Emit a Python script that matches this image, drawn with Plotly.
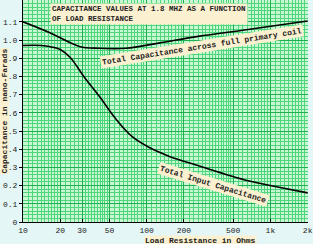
import numpy as np
import plotly.graph_objects as go

# Data
r_primary = [10, 16.5, 28.6, 41.5, 68, 125, 260, 660, 2000]
c_primary = [1.10, 1.04, 0.965, 0.955, 0.955, 0.983, 1.02, 1.058, 1.105]

r_input = [10, 14, 17, 20, 24, 31, 42, 55, 76, 105, 151, 263, 660, 1200, 2000]
c_input = [0.97, 0.97, 0.962, 0.948, 0.905, 0.80, 0.685, 0.575, 0.47, 0.409, 0.362, 0.309, 0.227, 0.19, 0.16]

x_tickvals = [10, 20, 30, 50, 100, 200, 500, 1000, 2000]
x_ticktext = ["10", "20", "30", "50", "100", "200", "500", "1k", "2k"]
y_tickvals = [0, 0.1, 0.2, 0.3, 0.4, 0.5, 0.6, 0.7, 0.8, 0.9, 1.0, 1.1]
y_ticktext = ["0", "0.1", "0.2", "0.3", "0.4", "0.5", "0.6", "0.7", "0.8", "0.9", "1.0", "1.1"]

# log-paper style minor grid
minor_x = (list(range(10, 20, 1)) + list(range(20, 50, 2)) + list(range(50, 100, 5))
           + list(range(100, 200, 10)) + list(range(200, 500, 20))
           + list(range(500, 1000, 50)) + list(range(1000, 2001, 100)))

FONT = "Liberation Mono, Courier New, monospace"
CREAM = "#fbf0cf"

fig = go.Figure()
fig.add_trace(go.Scatter(x=r_primary, y=c_primary, mode="lines",
                         line=dict(color="black", width=1.6, shape="spline"),
                         showlegend=False, hoverinfo="skip"))
fig.add_trace(go.Scatter(x=r_input, y=c_input, mode="lines",
                         line=dict(color="black", width=1.6, shape="spline"),
                         showlegend=False, hoverinfo="skip"))

fig.update_layout(
    width=313, height=244,
    margin=dict(l=23, r=3, t=0, b=22),
    paper_bgcolor="#e4f6f6",
    plot_bgcolor="#c9f6d3",
    font=dict(family=FONT, size=9, color="#222"),
    xaxis=dict(type="log", range=[1, np.log10(2000) + 0.003],
               tickmode="array", tickvals=x_tickvals, ticktext=x_ticktext,
               showgrid=True, gridcolor="#1fae50", gridwidth=1,
               minor=dict(tickmode="array", tickvals=minor_x, showgrid=True,
                          gridcolor="#4fd67c", gridwidth=1, ticks=""),
               showline=True, linecolor="black", linewidth=1,
               ticks="inside", ticklen=3, tickcolor="black",
               ticklabeloverflow="allow", ticklabelstandoff=0,
               tickfont=dict(family=FONT, size=8), zeroline=False),
    yaxis=dict(range=[0, 1.22],
               tickmode="array", tickvals=y_tickvals, ticktext=y_ticktext,
               showgrid=True, gridcolor="#1fae50", gridwidth=1,
               minor=dict(dtick=0.02, showgrid=True, gridcolor="#4fd67c",
                          gridwidth=1, ticks=""),
               showline=True, linecolor="black", linewidth=1,
               ticks="outside", ticklen=3, tickcolor="black",
               tickfont=dict(family=FONT, size=8), zeroline=False),
)

annos = [
    dict(text="<b>CAPACITANCE VALUES AT 1.8 MHZ AS A FUNCTION<br>OF LOAD RESISTANCE</b>",
         xref="paper", yref="paper", x=0.095, y=0.985, xanchor="left", yanchor="top",
         align="left", showarrow=False, bgcolor=CREAM, borderpad=1,
         font=dict(family=FONT, size=7.5, color="#222")),
    dict(text="<b>Total Capacitance across full primary coil</b>",
         xref="paper", yref="paper", x=0.627, y=0.79, xanchor="center", yanchor="middle",
         showarrow=False, textangle=-9, bgcolor=CREAM, borderpad=1,
         font=dict(family=FONT, size=8, color="#222")),
    dict(text="<b>Total Input Capacitance</b>",
         xref="paper", yref="paper", x=0.669, y=0.171, xanchor="center", yanchor="middle",
         showarrow=False, textangle=17, bgcolor=CREAM, borderpad=1,
         font=dict(family=FONT, size=8, color="#222")),
    dict(text="<b>Load Resistance in Ohms</b>",
         xref="paper", yref="paper", x=0.624, y=-0.083, xanchor="center", yanchor="middle",
         showarrow=False, bgcolor=CREAM, borderpad=0,
         font=dict(family=FONT, size=8, color="#222")),
    dict(text="<b>Capacitance in nano-Farads</b>",
         xref="paper", yref="paper", x=-0.068, y=0.5, xanchor="center", yanchor="middle",
         showarrow=False, textangle=-90, bgcolor=CREAM, borderpad=0,
         font=dict(family=FONT, size=8, color="#222")),
]
fig.update_layout(annotations=annos)

fig.write_html("out.html")
